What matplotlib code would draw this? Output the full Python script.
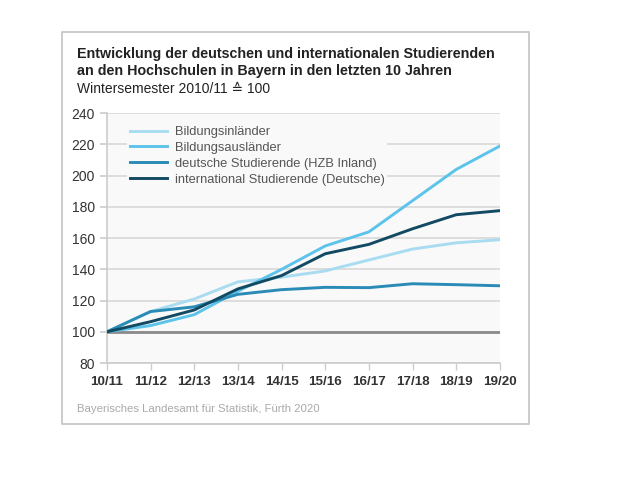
import matplotlib.pyplot as plt
from matplotlib.patches import Rectangle

plt.rcParams['font.family'] = ['Liberation Sans', 'DejaVu Sans']

semester = ["10/11", "11/12", "12/13", "13/14", "14/15",
            "15/16", "16/17", "17/18", "18/19", "19/20"]
bildungsinlaender = [100, 113, 121, 132, 135, 139, 146, 153, 157, 159]
bildungsauslaender = [100, 104, 111, 126, 140, 155, 164, 184, 204, 219]
deutsche_hzb = [100, 113, 116, 124, 127, 128.5, 128.3, 130.8, 130.2, 129.5]
international_deutsche = [100, 106.5, 114, 127.5, 136, 150, 156, 166, 175, 177.6]

series = [
    ("Bildungsinländer", bildungsinlaender, "#a9dcf1"),
    ("Bildungsausländer", bildungsauslaender, "#5cc3ea"),
    ("deutsche Studierende (HZB Inland)", deutsche_hzb, "#2a8bb6"),
    ("international Studierende (Deutsche)", international_deutsche, "#134a63"),
]

fig = plt.figure(figsize=(6.36, 4.88), dpi=100)
fig.patches.append(Rectangle((0.0975, 0.131), 0.7345, 0.803, transform=fig.transFigure,
                             fill=False, edgecolor="#c4c4c4", linewidth=1.2))

ax = fig.add_axes([0.168, 0.256, 0.618, 0.512])
ax.set_facecolor("#f9f9f9")

x = range(len(semester))
ax.axhline(100, color="#8a8a8a", linewidth=2, zorder=2)
for label, values, color in series:
    ax.plot(x, values, color=color, linewidth=2.1, label=label, zorder=3)

ax.set_xlim(0, len(semester) - 1)
ax.set_ylim(80, 240)
ax.set_yticks(range(80, 241, 20))
ax.set_xticks(list(x))
ax.set_xticklabels(semester, fontweight="bold")
ax.grid(axis="y", color="#d8d8d8", linewidth=1.2, zorder=0)
ax.tick_params(axis="both", colors="#cccccc", labelcolor="#333333", labelsize=10)
ax.tick_params(axis="x", labelsize=9.6)
ax.tick_params(axis="y", length=5, width=1.2)
ax.tick_params(axis="x", length=5, width=1, pad=4)
for side in ["top", "right"]:
    ax.spines[side].set_visible(False)
for side in ["left", "bottom"]:
    ax.spines[side].set_color("#cccccc")
    ax.spines[side].set_linewidth(1.2)

leg = ax.legend(loc="upper left", bbox_to_anchor=(0.035, 0.985), fontsize=9.3,
                frameon=True, facecolor="#f9f9f9", edgecolor="none", framealpha=1,
                handlelength=2.9, handletextpad=0.6, labelspacing=0.3, borderpad=0.2)
for t in leg.get_texts():
    t.set_color("#555555")

fig.text(0.121, 0.881, "Entwicklung der deutschen und internationalen Studierenden",
         fontsize=10.3, fontweight="bold", color="#222222", va="baseline")
fig.text(0.121, 0.846, "an den Hochschulen in Bayern in den letzten 10 Jahren",
         fontsize=10.3, fontweight="bold", color="#222222", va="baseline")
fig.text(0.121, 0.809, "Wintersemester 2010/11 \u2259 100", fontsize=10, color="#222222",
         va="baseline")
fig.text(0.121, 0.155, "Bayerisches Landesamt für Statistik, Fürth 2020", fontsize=8.2,
         color="#aaaaaa", va="baseline")

fig.savefig("out.png", dpi=100)
